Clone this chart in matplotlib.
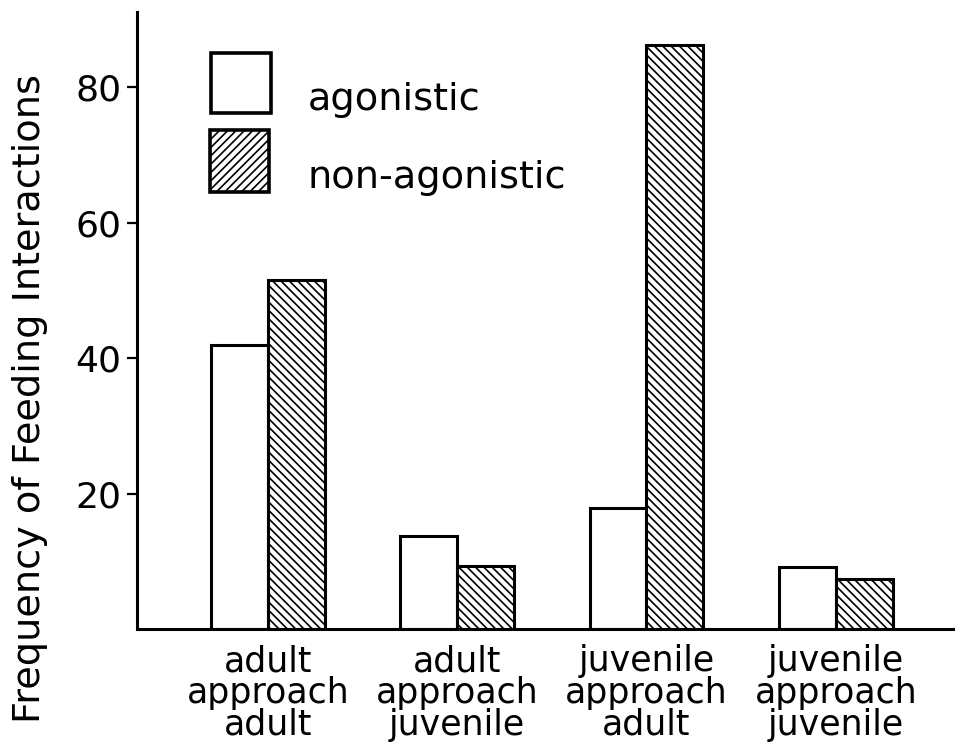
import matplotlib
matplotlib.use('Agg')
import matplotlib.pyplot as plt
from matplotlib.patches import Rectangle
import numpy as np

categories = ['adult\napproach\nadult', 'adult\napproach\njuvenile',
              'juvenile\napproach\nadult', 'juvenile\napproach\njuvenile']
agonistic = [42.0, 13.7, 17.9, 9.2]
non_agonistic = [51.5, 9.3, 86.2, 7.4]
y_ticks = [20, 40, 60, 80]
legend_labels = ['agonistic', 'non-agonistic']

plt.rcParams['font.family'] = 'DejaVu Sans'
plt.rcParams['hatch.linewidth'] = 1.2

fig = plt.figure(figsize=(9.55, 7.47), dpi=100)
ax = fig.add_axes([137 / 955, (747 - 629) / 747, 818 / 955, 617 / 747])

x = np.arange(len(categories))
w = 0.30
ax.bar(x - w / 2, agonistic, w, color='white', edgecolor='black', linewidth=2.2)
ax.bar(x + w / 2, non_agonistic, w, color='white', edgecolor='black',
       linewidth=2.2, hatch='\\\\\\\\')

ax.set_xlim(-0.692, 3.63)
ax.set_ylim(0, 91.1)

for s in ['top', 'right']:
    ax.spines[s].set_visible(False)
for s in ['left', 'bottom']:
    ax.spines[s].set_linewidth(2.2)

ax.set_yticks(y_ticks)
ax.set_yticklabels([str(t) for t in y_ticks], fontsize=26)
ax.tick_params(axis='y', direction='out', length=7, width=1.6, pad=4)
ax.set_xticks(x)
ax.set_xticklabels(categories, fontsize=25, linespacing=0.92)
ax.tick_params(axis='x', length=0, pad=11)

fig.text(0.031, 0.466, 'Frequency of Feeding Interactions', rotation=90,
         ha='center', va='center', fontsize=27.5)

# legend drawn by hand, boxes to the left of the labels
boxes = [(0.0905, 0.8363, 0.0733, 0.0972, None),
         (0.0892, 0.7083, 0.0721, 0.1005, '////')]
for (bx, by, bw, bh, h), lab, ty in zip(boxes, legend_labels, [0.841, 0.715]):
    ax.add_patch(Rectangle((bx, by), bw, bh, transform=ax.transAxes,
                           facecolor='white', edgecolor='black', linewidth=2.6,
                           hatch=h, clip_on=False))
    ax.text(0.209, ty, lab, transform=ax.transAxes, fontsize=27.5,
            ha='left', va='baseline')

fig.savefig('out.png', dpi=100)
